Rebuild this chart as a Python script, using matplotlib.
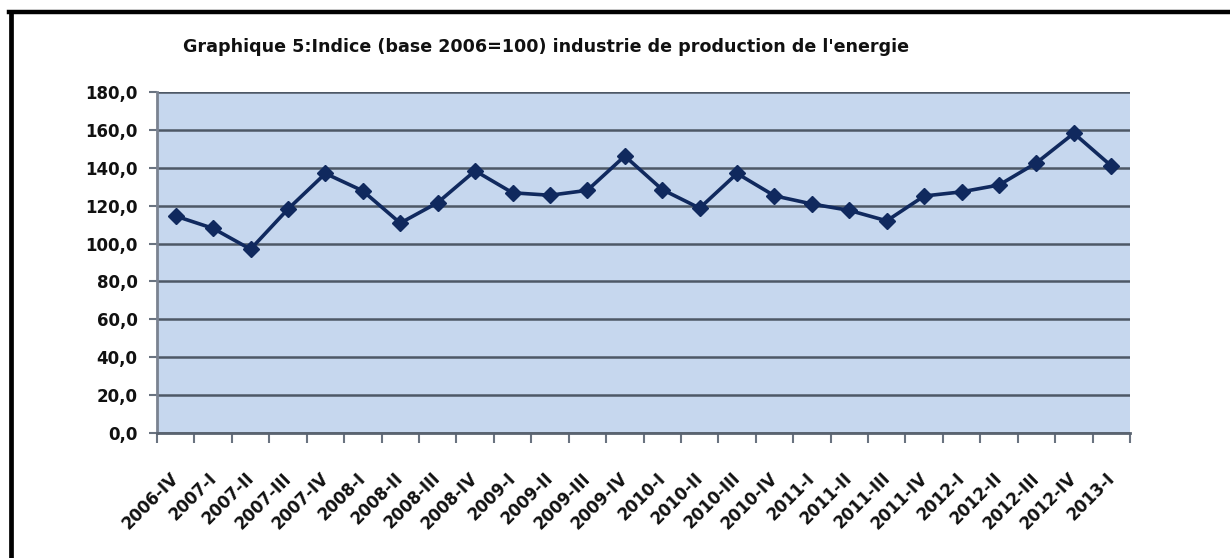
import matplotlib
matplotlib.use("Agg")
import matplotlib.pyplot as plt
from matplotlib.lines import Line2D
import matplotlib.transforms as mtransforms
import numpy as np

categories = ["2006-IV", "2007-I", "2007-II", "2007-III", "2007-IV",
              "2008-I", "2008-II", "2008-III", "2008-IV",
              "2009-I", "2009-II", "2009-III", "2009-IV",
              "2010-I", "2010-II", "2010-III", "2010-IV",
              "2011-I", "2011-II", "2011-III", "2011-IV",
              "2012-I", "2012-II", "2012-III", "2012-IV", "2013-I"]
values = [114.5, 108.0, 97.0, 118.2, 137.0,
          127.8, 110.8, 121.6, 138.4,
          126.8, 125.5, 128.1, 146.2,
          128.5, 118.7, 137.0, 125.2,
          120.9, 117.5, 112.0, 125.1,
          127.3, 130.9, 142.6, 158.2, 141.0]
yticks = [0, 20, 40, 60, 80, 100, 120, 140, 160, 180]
ytick_labels = ["0,0", "20,0", "40,0", "60,0", "80,0", "100,0",
                "120,0", "140,0", "160,0", "180,0"]
title = "Graphique 5:Indice (base 2006=100) industrie de production de l'energie"

W, H = 1230, 558
fig = plt.figure(figsize=(W / 100, H / 100), dpi=100)
fig.patch.set_facecolor("white")

ax = fig.add_axes([157 / W, 1 - 433 / H, (1130 - 157) / W, (433 - 92) / H])
ax.set_facecolor("#c6d7ee")

x = np.arange(len(categories))
ax.plot(x, values, color="#10295e", lw=2.6, marker="D", ms=8.5,
        markerfacecolor="#10295e", markeredgecolor="#10295e", zorder=3)

ax.set_xlim(-0.5, len(categories) - 0.5)
ax.set_ylim(0, 180)
ax.set_yticks(yticks)
ax.set_yticklabels(ytick_labels)
for v in yticks:
    ax.axhline(v, color="#4d5866", lw=1.8, zorder=1)

ax.set_xticks(x)
ax.set_xticklabels(categories, rotation=45, ha="right", va="top",
                   rotation_mode="anchor")
ax.set_xticks(np.arange(-0.5, len(categories)), minor=True)
ax.tick_params(axis="x", which="major", length=0, pad=26)
ax.tick_params(axis="x", which="minor", length=7, width=1.5, color="#6a7380",
               direction="out")
ax.tick_params(axis="y", length=6, width=1.5, color="#6a7380", direction="out",
               pad=8)
shift = mtransforms.ScaledTranslation(-6 / 100, 0, fig.dpi_scale_trans)
for lab in ax.get_xticklabels():
    lab.set_transform(lab.get_transform() + shift)
for lab in ax.get_xticklabels() + ax.get_yticklabels():
    lab.set_fontweight("bold")
    lab.set_fontsize(12)
    lab.set_color("#111111")

for s in ["top", "right"]:
    ax.spines[s].set_visible(False)
ax.spines["left"].set_color("#7a8290")
ax.spines["left"].set_linewidth(2.0)
ax.spines["bottom"].set_color("#5a6370")
ax.spines["bottom"].set_linewidth(2.0)

fig.text(183 / W, 1 - 47 / H, title, fontsize=12.6, fontweight="bold",
         ha="left", va="center", color="#111111")

# outer frame (left and top edges visible)
fig.add_artist(Line2D([10.5 / W, 10.5 / W], [0, 1 - 12 / H], color="black",
                      lw=3.4, transform=fig.transFigure))
fig.add_artist(Line2D([9 / W, 1], [1 - 12 / H, 1 - 12 / H], color="black",
                      lw=3.2, transform=fig.transFigure))

fig.savefig("out.png", dpi=100, facecolor="white")
